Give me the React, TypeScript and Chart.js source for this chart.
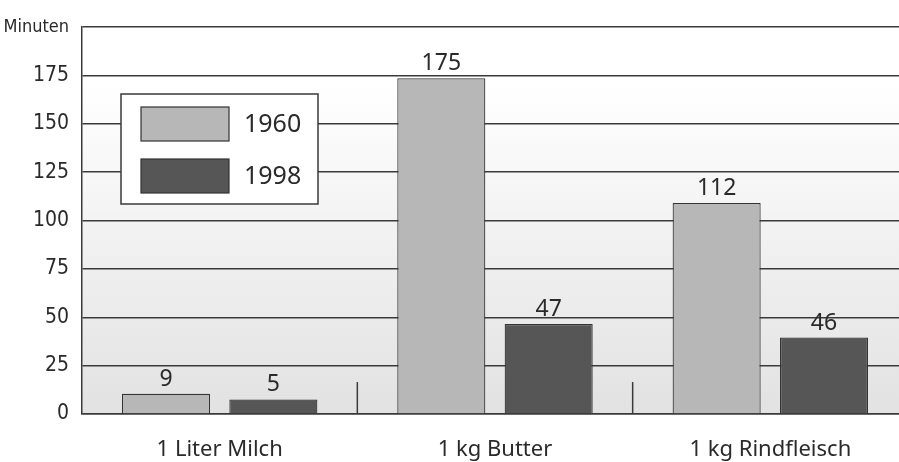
import React, { useEffect, useRef } from "react";
import { Chart, registerables } from "chart.js";

Chart.register(...registerables);

const categories = ["1 Liter Milch", "1 kg Butter", "1 kg Rindfleisch"];
const seriesNames = ["1960", "1998"];
const values1960 = [10.5, 173.5, 109];
const values1998 = [7.5, 46.5, 39.5];
const labels1960 = ["9", "175", "112"];
const labels1998 = ["5", "47", "46"];
const yTicks = [0, 25, 50, 75, 100, 125, 150, 175, 200];
const yUnit = "Minuten";

const LIGHT = "#b7b7b7";
const DARK = "#565656";
const LINE = "#3a3a3a";
const FONT = "'Noto Sans', 'DejaVu Sans', sans-serif";
const NARROW = "'DejaVu Sans Condensed', 'Liberation Sans Narrow', 'Liberation Sans', sans-serif";

const bgPlugin = {
  id: "bgGradient",
  beforeDraw(chart: any) {
    const { ctx, chartArea: a } = chart;
    const g = ctx.createLinearGradient(0, a.top, 0, a.bottom);
    g.addColorStop(0, "#ffffff");
    g.addColorStop(0.15, "#ffffff");
    g.addColorStop(1, "#e2e2e2");
    ctx.save();
    ctx.fillStyle = g;
    ctx.fillRect(a.left, a.top, a.right - a.left, a.bottom - a.top);
    ctx.restore();
  },
};

const separatorPlugin = {
  id: "separators",
  afterDatasetsDraw(chart: any) {
    const { ctx, chartArea: a, scales } = chart;
    const x = scales.x;
    const y = scales.y;
    ctx.save();
    ctx.strokeStyle = LINE;
    ctx.lineWidth = 1.5;
    for (let i = 1; i < categories.length; i++) {
      const px = (x.getPixelForValue(i - 1) + x.getPixelForValue(i)) / 2;
      ctx.beginPath();
      ctx.moveTo(px, a.bottom);
      ctx.lineTo(px, y.getPixelForValue(16.5));
      ctx.stroke();
    }
    ctx.restore();
  },
};

const valueLabelPlugin = {
  id: "valueLabels",
  afterDatasetsDraw(chart: any) {
    const { ctx } = chart;
    const all = [labels1960, labels1998];
    ctx.save();
    ctx.fillStyle = "#2a2a2a";
    ctx.font = `23px ${FONT}`;
    ctx.textAlign = "center";
    ctx.textBaseline = "alphabetic";
    chart.data.datasets.forEach((_: any, di: number) => {
      const meta = chart.getDatasetMeta(di);
      meta.data.forEach((el: any, i: number) => {
        ctx.fillText(all[di][i], el.x, el.y - 8);
      });
    });
    ctx.restore();
  },
};

const legendPlugin = {
  id: "boxLegend",
  afterDraw(chart: any) {
    const { ctx } = chart;
    const bx = 121, by = 94, bw = 197, bh = 110;
    ctx.save();
    ctx.fillStyle = "#ffffff";
    ctx.fillRect(bx, by, bw, bh);
    ctx.strokeStyle = LINE;
    ctx.lineWidth = 1.5;
    ctx.strokeRect(bx, by, bw, bh);
    const colors = [LIGHT, DARK];
    seriesNames.forEach((name, i) => {
      const sy = by + 13 + i * 52;
      ctx.fillStyle = colors[i];
      ctx.fillRect(141, sy, 88, 34);
      ctx.strokeStyle = "#333";
      ctx.lineWidth = 1.2;
      ctx.strokeRect(141, sy, 88, 34);
      ctx.fillStyle = "#2a2a2a";
      ctx.font = `25px ${FONT}`;
      ctx.textAlign = "left";
      ctx.textBaseline = "middle";
      ctx.fillText(name, 244, sy + 18);
    });
    ctx.restore();
  },
};

export default function App() {
  const ref = useRef<HTMLCanvasElement | null>(null);
  useEffect(() => {
    document.body.style.margin = "0";
    const canvas = ref.current!;
    const chart = new Chart(canvas, {
      type: "bar",
      data: {
        labels: categories,
        datasets: [
          {
            label: seriesNames[0],
            data: values1960,
            backgroundColor: LIGHT,
            borderColor: "#333",
            borderWidth: 1.2,
            categoryPercentage: 0.78,
            barPercentage: 0.82,
          },
          {
            label: seriesNames[1],
            data: values1998,
            backgroundColor: DARK,
            borderColor: "#333",
            borderWidth: 1.2,
            categoryPercentage: 0.78,
            barPercentage: 0.82,
          },
        ],
      },
      options: {
        animation: false,
        responsive: false,
        devicePixelRatio: 1,
        layout: { padding: { top: 27, left: 0, right: 0, bottom: 0 } },
        plugins: { legend: { display: false }, tooltip: { enabled: false } },
        scales: {
          x: {
            grid: { display: false, drawTicks: false },
            border: { display: true, color: LINE, width: 1.5 },
            ticks: {
              color: "#2a2a2a",
              font: { family: FONT, size: 22 },
              padding: 23,
            },
            afterFit(scale: any) {
              scale.height = 48;
            },
          },
          y: {
            min: 0,
            max: 200,
            afterBuildTicks(scale: any) {
              scale.ticks = yTicks.map((v) => ({ value: v }));
            },
            grid: { color: LINE, lineWidth: 1.5, drawTicks: false },
            border: { display: true, color: LINE, width: 1.5 },
            ticks: {
              color: "#2a2a2a",
              padding: 13,
              font: (c: any) =>
                c.tick && c.tick.value === 200
                  ? { family: NARROW, size: 18 }
                  : { family: NARROW, size: 21 },
              callback: (v: any) => (v === 200 ? yUnit : String(v)),
            },
            afterFit(scale: any) {
              scale.width = 82;
            },
          },
        },
      },
      plugins: [bgPlugin, separatorPlugin, valueLabelPlugin, legendPlugin],
    });
    return () => chart.destroy();
  }, []);
  return (
    <div style={{ width: 899, height: 462, overflow: "hidden", background: "#fff" }}>
      <canvas ref={ref} width={908} height={462} style={{ display: "block" }} />
    </div>
  );
}
